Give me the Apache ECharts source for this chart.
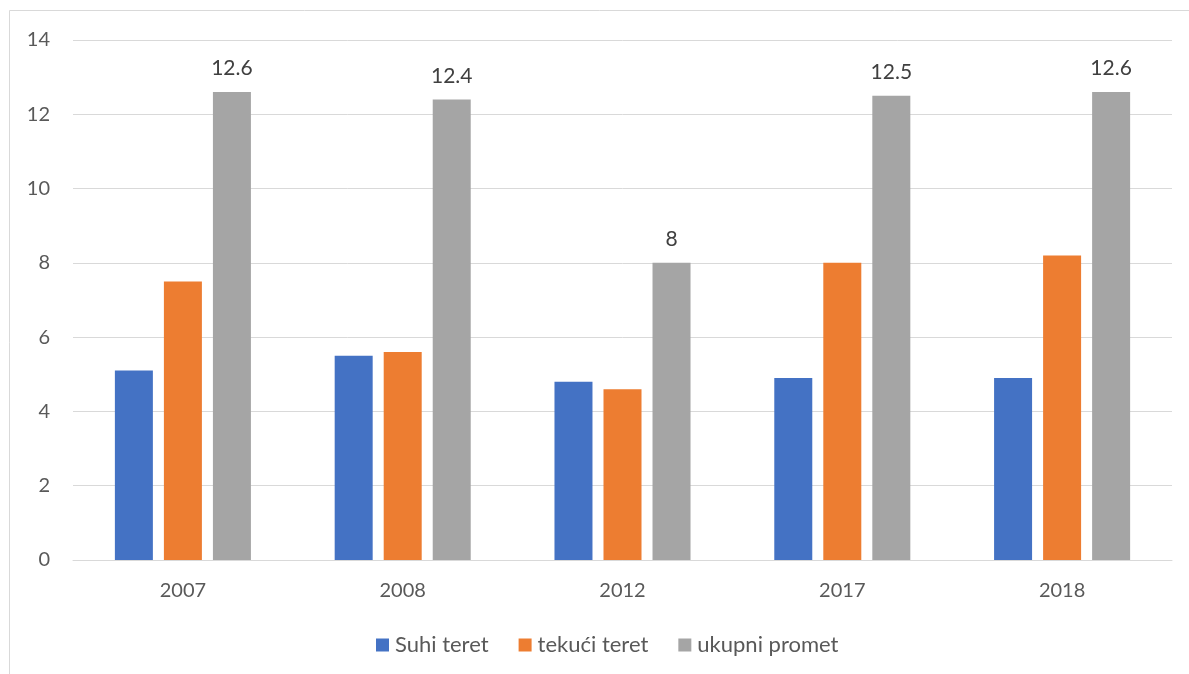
<!DOCTYPE html>
<html><head><meta charset="utf-8">
<script src="https://cdn.jsdelivr.net/npm/echarts@6/dist/echarts.min.js"></script>
<style>html,body{margin:0;padding:0;background:#fff}#c{width:1189px;height:674px}</style>
</head><body><div id="c"></div>
<script>
const categories = ['2007','2008','2012','2017','2018'];
const suhiTeret = [5.1, 5.5, 4.8, 4.9, 4.9];
const tekuciTeret = [7.5, 5.6, 4.6, 8.0, 8.2];
const ukupniPromet = [12.6, 12.4, 8, 12.5, 12.6];
const yTicks = {min: 0, max: 14, interval: 2};

const font = 'Lato, "Noto Sans", sans-serif';
const chart = echarts.init(document.getElementById('c'), null, {renderer: 'canvas'});
chart.setOption({
  animation: false,
  backgroundColor: '#fff',
  graphic: [{type: 'rect', shape: {x: 9.5, y: 10.5, width: 1200, height: 700},
    style: {fill: 'none', stroke: '#d9d9d9', lineWidth: 1}, silent: true}],
  grid: {left: 73, right: 17, top: 40, bottom: 114, containLabel: false},
  legend: {
    bottom: 18, left: 376, itemWidth: 13, itemHeight: 13, itemGap: 30,
    icon: 'rect', padding: 0,
    textStyle: {fontFamily: font, fontSize: 22, color: '#595959', padding: [0, 0, 0, 1]},
    data: ['Suhi teret', 'tekući teret', 'ukupni promet']
  },
  xAxis: {
    type: 'category', data: categories,
    axisLine: {lineStyle: {color: '#d9d9d9', width: 1}},
    axisTick: {show: false},
    axisLabel: {fontFamily: font, fontSize: 20, color: '#595959', margin: 21}
  },
  yAxis: {
    type: 'value', min: yTicks.min, max: yTicks.max, interval: yTicks.interval,
    axisLine: {show: false}, axisTick: {show: false},
    splitLine: {lineStyle: {color: '#d9d9d9', width: 1}},
    axisLabel: {fontFamily: font, fontSize: 20, color: '#595959', margin: 23}
  },
  series: [
    {name: 'Suhi teret', type: 'bar', data: suhiTeret, barWidth: 38, barGap: '29%',
     itemStyle: {color: '#4472C4'}},
    {name: 'tekući teret', type: 'bar', data: tekuciTeret, barWidth: 38, barGap: '29%',
     itemStyle: {color: '#ED7D31'}},
    {name: 'ukupni promet', type: 'bar', data: ukupniPromet, barWidth: 38, barGap: '29%',
     itemStyle: {color: '#A5A5A5'},
     label: {show: true, position: 'top', distance: 13, fontFamily: font, fontSize: 21, color: '#404040'}}
  ]
});
</script></body></html>
